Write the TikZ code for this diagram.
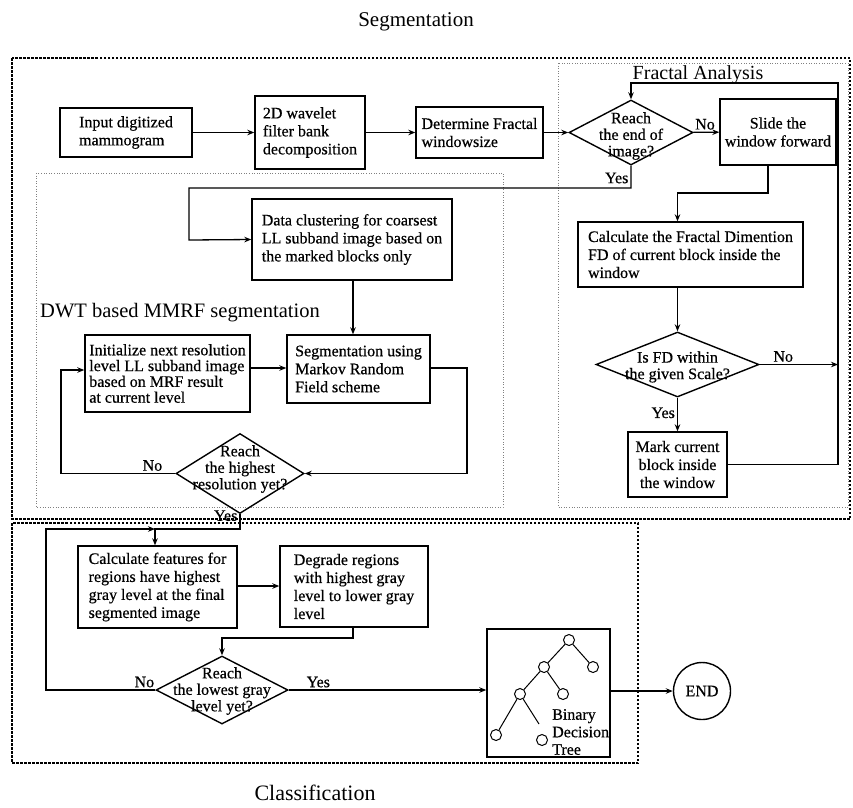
\documentclass[tikz,border=0pt]{standalone}
\usepackage{fontspec}
\setmainfont{Liberation Serif}
\newfontfamily\boxfont{Liberation Serif}[FakeBold=0.5]
\usetikzlibrary{arrows.meta,shapes.geometric,calc}

\begin{document}
\begin{tikzpicture}[x=1pt,y=-1pt,
  txt/.style={font=\boxfont\fontsize{16}{18}\selectfont},
  box/.style={draw, line width=1.4pt, inner sep=0pt, align=left, txt},
  dia/.style={draw, diamond, line width=1.4pt, inner sep=0pt},
  diatext/.style={align=center, inner sep=0pt, font=\boxfont\fontsize{16}{16.5}\selectfont},
  conn/.style={line width=1.3pt, -{Stealth[length=7pt,width=5.5pt]}},
  lbl/.style={txt, inner sep=2pt},
  outerframe/.style={line width=1.2pt, dash pattern=on 2.5pt off 1.5pt},
  innerframe/.style={line width=0.6pt, gray, dotted},
  leaf/.style={draw, circle, line width=1pt, minimum size=11pt, inner sep=0pt},
  branch/.style={line width=1pt},
  title/.style={inner sep=0pt, anchor=base}
]
\useasboundingbox (0,0) rectangle (853,807);

% frames
\draw[outerframe] (12,58) rectangle (850,519);
\draw[outerframe] (12,523) rectangle (638,763);
\draw[innerframe] (36,173) rectangle (503,507);
\draw[innerframe] (558,63) rectangle (848,507);

% titles
\node[title, font=\fontsize{21}{24}\selectfont] (tseg) at (416,26) {Segmentation};
\node[title, font=\fontsize{22}{24}\selectfont] (tcls) at (315,800) {Classification};
\node[title, font=\fontsize{20}{22}\selectfont] (tfa) at (698,79) {Fractal Analysis};
\node[title, anchor=base west, font=\fontsize{20.5}{22}\selectfont] (tdwt) at (40,317) {DWT based MMRF segmentation};

% process boxes
\node[box, minimum width=132, minimum height=49] (input) at (126,132.5) {Input digitized\\mammogram};
\node[box, minimum width=110, minimum height=73] (wave) at (310,132.5) {2D wavelet\\filter bank\\decomposition};
\node[box, minimum width=127, minimum height=51] (determ) at (479.5,132.5) {Determine Fractal\\windowsize};
\node[box, align=center, minimum width=116, minimum height=66] (slide) at (778,132) {Slide the\\window forward};
\node[box, minimum width=200, minimum height=81] (cluster) at (352,239.5) {Data clustering for coarsest\\LL subband image based on\\the marked blocks only};
\node[box, minimum width=225, minimum height=65] (calcfd) at (690.5,254.5) {Calculate the Fractal Dimention\\FD of current block inside the\\window};
\node[box, align=center, minimum width=99, minimum height=65] (mark) at (677.5,464.5) {Mark current\\block inside\\the window};
\node[box, minimum width=165, minimum height=77, font=\boxfont\fontsize{16}{15.8}\selectfont] (init) at (167.5,373.5) {Initialize next resolution\\level LL subband image\\based on MRF result\\at current level};
\node[box, minimum width=143, minimum height=68] (seg) at (358.5,369) {Segmentation using\\Markov Random\\Field scheme};
\node[box, minimum width=159, minimum height=82] (feat) at (157.5,587) {Calculate features for\\regions have highest\\gray level at the final\\segmented image};
\node[box, minimum width=148, minimum height=81] (degr) at (354,586.5) {Degrade regions\\with highest gray\\level to lower gray\\level};
\node[box, minimum width=123, minimum height=128] (tree) at (548.5,693) {};
\node[draw, circle, line width=1.4pt, minimum size=57pt, inner sep=0pt, txt] (end) at (702,691) {END};

% decisions
\node[dia, minimum width=124, minimum height=65] (d1) at (631,132.5) {};
\node[diatext] (d1t) at (631,136) {Reach\\the end of\\image?};
\node[dia, minimum width=163, minimum height=65] (d2) at (677.5,364.5) {};
\node[diatext] (d2t) at (677.5,367) {Is FD within\\the given Scale?};
\node[dia, minimum width=128, minimum height=80] (d3) at (240,473.5) {};
\node[diatext] (d3t) at (240,469) {Reach\\the highest\\resolution yet?};
\node[dia, minimum width=132, minimum height=68] (d5) at (222,690) {};
\node[diatext] (d5t) at (222,691) {Reach\\the lowest gray\\level yet?};

% binary decision tree drawn inside its box
\node[leaf] (t0) at (569,640) {};
\node[leaf] (t1) at (544,667) {};
\node[leaf] (t2) at (593,667) {};
\node[leaf] (t3) at (520,694) {};
\node[leaf] (t4) at (563,694) {};
\node[leaf] (t5) at (496,735) {};
\node[leaf] (t6) at (542,740) {};
\coordinate (t6stub) at (539,724);
\draw[branch] (t0) -- (t1);
\draw[branch] (t0) -- (t2);
\draw[branch] (t1) -- (t3);
\draw[branch] (t1) -- (t4);
\draw[branch] (t3) -- (t5);
\draw[branch] (t3) -- (t6stub);
\node[anchor=west, align=left, inner sep=0pt, font=\boxfont\fontsize{16}{17.5}\selectfont] (treelbl) at (552,732) {Binary\\Decision\\Tree};

% top row
\draw[conn] (input) -- (wave);
\draw[conn] (wave) -- (determ);
\draw[conn] (determ) -- (d1);
\draw[conn] (d1) -- node[lbl, above, pos=0.45] {No} (slide);

% fractal analysis loop
\draw[conn] (d1.south) -- node[lbl, left, pos=0.55] {Yes} (631,188) -| (189,240) -- (cluster.west);
\draw[conn] (768,0 |- slide.south) -- (768,193) -- (677.5,193) -- (677.5,0 |- calcfd.north);
\draw[conn] (d2.north |- calcfd.south) -- (d2.north);
\draw[conn] (d2.east) -- node[lbl, above, pos=0.3] {No} (838,0 |- d2.east);
\draw[conn] (d2.south) -- node[lbl, left, pos=0.45] {Yes} (mark.north);
\draw[conn] (mark.east) -- (838,0 |- mark.east) -- (838,83) -- (631,83) -- (d1.north);

% multiresolution MRF segmentation
\draw[conn] (353,0 |- cluster.south) -- (353,0 |- seg.north);
\draw[conn] (init.east |- 0,368) -- (seg.west |- 0,368);
\draw[conn] (seg.east |- 0,368) -- (467,368) |- (d3.east);
\draw[conn] (d3.west) -- node[lbl, above, pos=0.2] {No} (61,0 |- d3.west) |- (init.west |- 0,370);
\draw[conn] (d3.south) -- node[lbl, left, pos=0.1] {Yes} (240,529) -- (155,529) -- (155,0 |- feat.north);

% classification
\draw[conn] (d5.west) -- node[lbl, above, pos=0.1] {No} (46,690) -- (46,529) -- (155,529);
\draw[conn] (feat.east |- 0,586) -- (degr.west |- 0,586);
\draw[conn] (353,0 |- degr.south) -- (353,638) -- (222,638) -- (d5.north);
\draw[conn] (d5.east) -- node[lbl, above, pos=0.15] {Yes} (tree.west |- d5.east);
\draw[conn] (tree.east |- end.west) -- (end.west);
\end{tikzpicture}
\end{document}
